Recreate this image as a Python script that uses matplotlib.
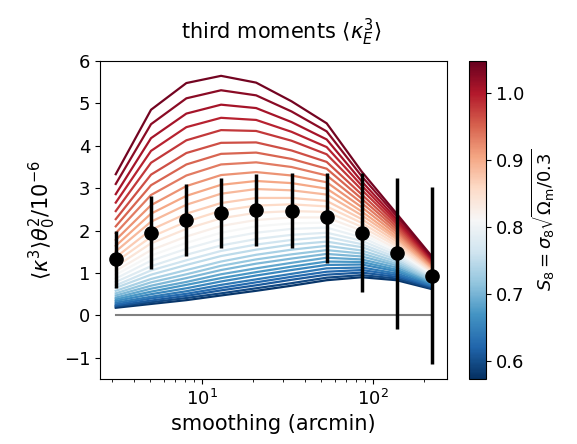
import numpy as np
import matplotlib
matplotlib.use("Agg")
import matplotlib.pyplot as plt
from matplotlib.colors import Normalize

# smoothing scales (arcmin)
smoothing = [3.14, 5.05, 8.13, 12.97, 20.8, 33.5, 53.8, 86.3, 138.0, 222.0]

# measured third moments with error bars
data_mean = [1.34, 1.95, 2.25, 2.41, 2.48, 2.47, 2.31, 1.95, 1.46, 0.93]
data_lo = [0.65, 1.09, 1.40, 1.58, 1.63, 1.58, 1.24, 0.55, -0.32, -1.15]
data_hi = [2.00, 2.82, 3.09, 3.25, 3.34, 3.35, 3.37, 3.37, 3.25, 3.03]

# S8 of each model curve
S8 = [0.58, 0.595, 0.611, 0.626, 0.641, 0.657, 0.672, 0.687, 0.703, 0.718,
      0.733, 0.749, 0.764, 0.779, 0.795, 0.81, 0.825, 0.841, 0.856, 0.871,
      0.887, 0.902, 0.917, 0.933, 0.948, 0.963, 0.979, 0.994, 1.009, 1.025, 1.04]

# model curves, values x 100 (one row per S8)
model_x100 = [
    [18, 27, 36, 47, 58, 70, 83, 90, 83, 62],
    [21, 31, 41, 52, 64, 76, 89, 95, 87, 64],
    [23, 35, 46, 59, 71, 84, 96, 101, 91, 67],
    [26, 40, 51, 65, 78, 91, 103, 107, 95, 69],
    [30, 44, 57, 72, 85, 98, 111, 113, 99, 71],
    [34, 50, 64, 80, 94, 107, 119, 120, 104, 74],
    [38, 56, 72, 88, 102, 115, 127, 126, 108, 76],
    [42, 63, 79, 97, 111, 124, 136, 132, 113, 78],
    [47, 70, 88, 107, 122, 134, 145, 139, 118, 81],
    [52, 78, 97, 117, 132, 144, 154, 146, 122, 83],
    [58, 86, 107, 127, 143, 155, 164, 153, 127, 86],
    [65, 96, 119, 140, 155, 167, 174, 161, 132, 88],
    [71, 106, 130, 152, 167, 178, 185, 168, 137, 91],
    [79, 116, 143, 165, 180, 190, 195, 176, 142, 93],
    [87, 129, 157, 180, 195, 204, 207, 184, 147, 96],
    [96, 141, 171, 195, 210, 217, 219, 192, 152, 98],
    [105, 154, 186, 211, 225, 231, 231, 200, 157, 101],
    [115, 170, 204, 229, 242, 246, 244, 209, 163, 104],
    [126, 185, 221, 247, 259, 262, 257, 218, 168, 106],
    [137, 202, 240, 265, 277, 277, 270, 227, 174, 109],
    [151, 221, 261, 287, 298, 295, 285, 236, 180, 112],
    [164, 240, 282, 308, 317, 312, 299, 245, 185, 114],
    [178, 260, 305, 331, 338, 330, 314, 255, 191, 117],
    [194, 284, 330, 356, 361, 350, 330, 265, 197, 120],
    [210, 307, 356, 381, 384, 369, 346, 275, 203, 122],
    [227, 332, 383, 407, 408, 389, 362, 285, 209, 125],
    [246, 360, 413, 437, 435, 412, 380, 296, 215, 128],
    [266, 388, 444, 466, 461, 433, 397, 306, 221, 131],
    [286, 418, 476, 497, 489, 456, 415, 316, 227, 133],
    [310, 451, 512, 531, 519, 481, 434, 328, 234, 136],
    [333, 485, 548, 565, 549, 505, 453, 339, 240, 139],
]

cbar_ticks = [0.6, 0.7, 0.8, 0.9, 1.0]

fig = plt.figure(figsize=(5.77, 4.44), dpi=100)
ax = fig.add_axes([100/577, 1-379/444, 347/577, 318/444])
cax = fig.add_axes([469/577, 1-379/444, 17/577, 318/444])
norm = Normalize(0.573, 1.048)
cmap = plt.get_cmap('RdBu_r')
for s, row in zip(S8, model_x100):
    ax.plot(smoothing, np.array(row) / 100.0, color=cmap(norm(s)), lw=1.6)
ax.plot(smoothing, [0]*len(smoothing), color='gray', lw=1.5)
m = np.array(data_mean)
ax.errorbar(smoothing, m, yerr=[m-np.array(data_lo), np.array(data_hi)-m],
            fmt='o', color='k', ms=9.5, elinewidth=2.5, capsize=0)
ax.set_xscale('log')
ax.set_xlim(2.54, 272)
ax.set_ylim(-1.5, 6)
ax.tick_params(labelsize=13)
ax.set_xlabel('smoothing (arcmin)', fontsize=15)
ax.set_ylabel(r'$\langle\kappa^3\rangle\theta_0^2/10^{-6}$', fontsize=15)
fig.text(281/577, 1-32/444, r'third moments $\langle\kappa_E^3\rangle$',
         ha='center', va='center', fontsize=15)
sm = matplotlib.cm.ScalarMappable(norm=norm, cmap=cmap)
cb = fig.colorbar(sm, cax=cax)
cb.set_ticks(cbar_ticks)
cb.ax.tick_params(labelsize=13)
cb.set_label(r'$S_8=\sigma_8\sqrt{\Omega_{\rm m}/0.3}$', fontsize=13)
fig.savefig('out.png', dpi=100)
